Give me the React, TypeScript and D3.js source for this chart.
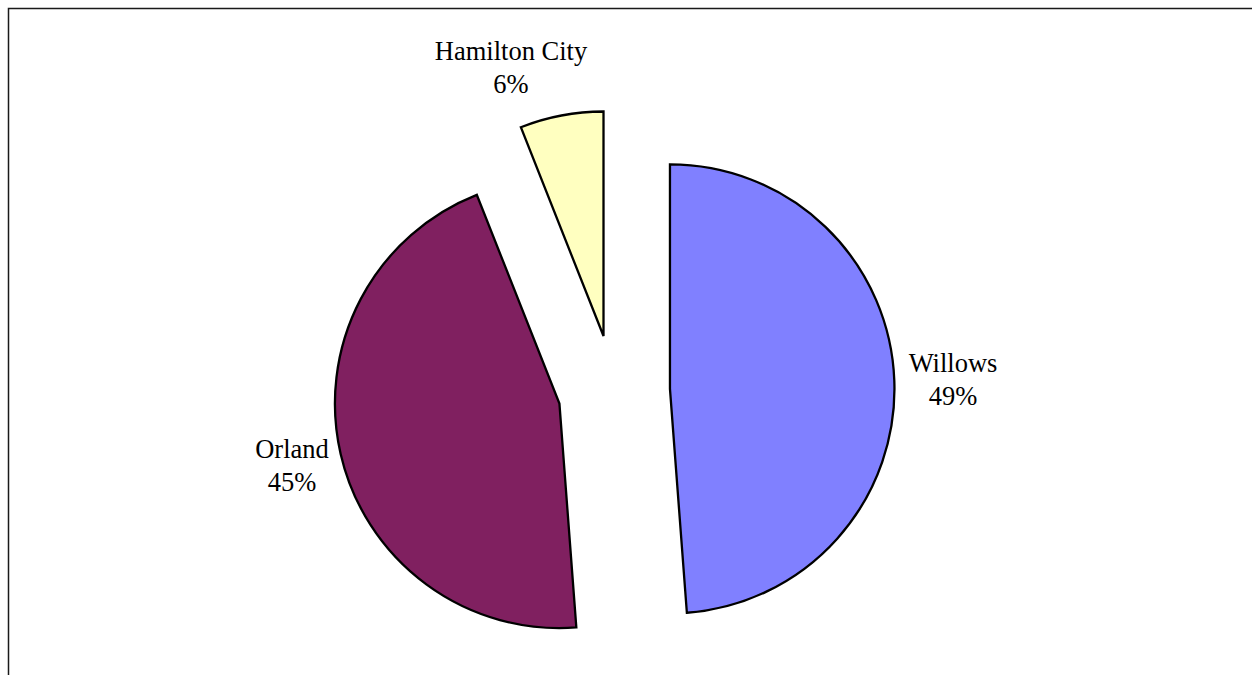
import React from "react";
import * as d3 from "d3";

const categories = ["Willows", "Orland", "Hamilton City"];
const values = [48.8, 45.2, 6.0];
const percentLabels = ["49%", "45%", "6%"];
const colors = ["#8080FF", "#802060", "#FFFFC0"];

const W = 1252;
const H = 675;
const CX = 614;
const CY = 391;
const R = 224.5;
const EXPLODE = 56;
// label centers (layout)
const labelPos: [number, number][] = [
  [953, 372],
  [292, 458],
  [511, 60],
];

export default function App() {
  const pie = d3
    .pie<number>()
    .sort(null)
    .value((d) => d)
    .startAngle(0)
    .endAngle(2 * Math.PI);
  const arcs = pie(values);
  const arc = d3.arc<d3.PieArcDatum<number>>().innerRadius(0).outerRadius(R);

  return (
    <svg
      width={W}
      height={H}
      style={{ position: "absolute", left: 0, top: 0, background: "#fff" }}
    >
      <rect x={8.5} y={8.5} width={W + 20} height={H + 20} fill="#fff" stroke="#1a1a1a" strokeWidth={1.5} />
      {arcs.map((a, i) => {
        const mid = (a.startAngle + a.endAngle) / 2;
        const dx = EXPLODE * Math.sin(mid);
        const dy = -EXPLODE * Math.cos(mid);
        return (
          <path
            key={categories[i]}
            d={arc(a) || ""}
            transform={`translate(${CX + dx},${CY + dy})`}
            fill={colors[i]}
            stroke="#000"
            strokeWidth={2.3}
            strokeLinejoin="miter"
          />
        );
      })}
      {categories.map((c, i) => (
        <g key={c} fontFamily="'Liberation Serif', 'Times New Roman', serif" fontSize={26.5} fill="#000" textAnchor="middle">
          <text x={labelPos[i][0]} y={labelPos[i][1]}>{c}</text>
          <text x={labelPos[i][0]} y={labelPos[i][1] + 33}>{percentLabels[i]}</text>
        </g>
      ))}
    </svg>
  );
}
